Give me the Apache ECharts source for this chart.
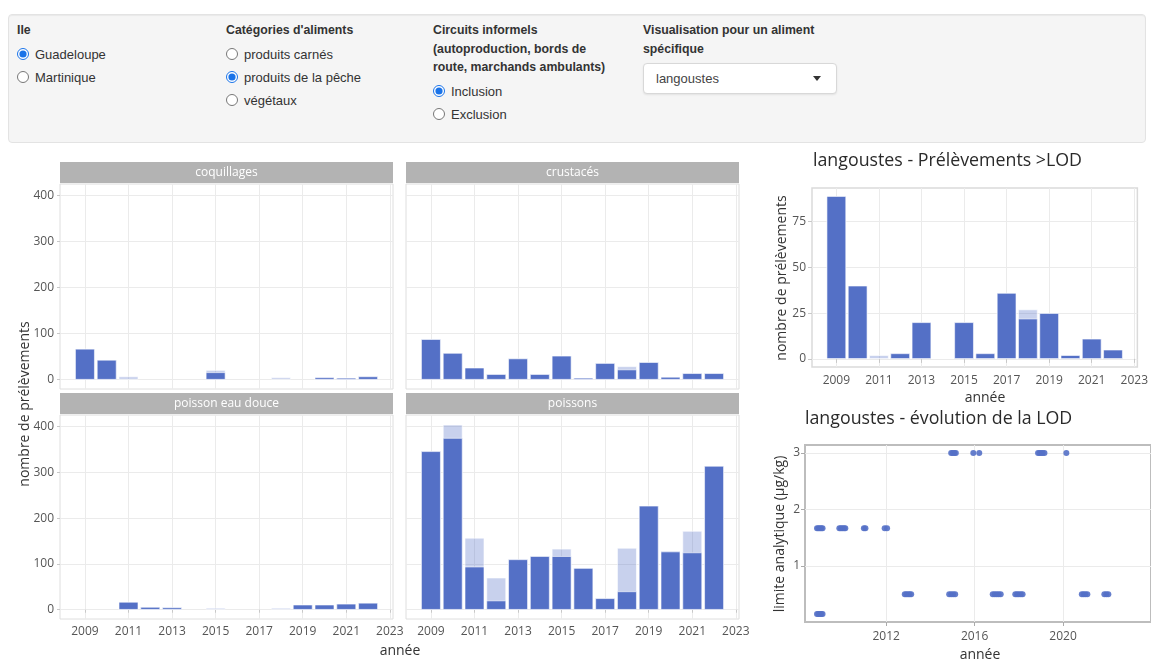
<!DOCTYPE html>
<html><head><meta charset="utf-8">
<script src="https://cdn.jsdelivr.net/npm/echarts@6/dist/echarts.min.js"></script>
<style>
html,body{margin:0;padding:0;background:#fff;width:1151px;height:660px;overflow:hidden;font-family:"Liberation Sans",Arial,sans-serif;color:#333;}
#chart{position:absolute;left:0;top:0;width:1151px;height:660px;}
#panel{position:absolute;left:8px;top:14px;width:1136px;height:127px;background:#f5f5f5;border:1px solid #e3e3e3;border-radius:4px;box-shadow:inset 0 1px 1px rgba(0,0,0,.05);z-index:2;}
.col{position:absolute;top:6px;font-size:13px;}
.lab{font-weight:bold;font-size:12.3px;line-height:18.5px;margin-bottom:3px;}
.opt{height:23px;line-height:23px;display:flex;align-items:center;}
.opt input{margin:0 6px 0 0;width:12px;height:12px;accent-color:#1a73e8;}
.sel{position:absolute;left:0;width:192px;height:29px;border:1px solid #d8d8d8;border-radius:4px;background:#fff;box-shadow:0 1px 2px rgba(0,0,0,.08);font-size:13px;line-height:29px;}
.sel span{position:absolute;left:12px;color:#444;}
.sel i{position:absolute;right:15px;top:12px;width:0;height:0;border-left:4px solid transparent;border-right:4px solid transparent;border-top:5px solid #333;}
</style></head>
<body>
<div id="panel">
  <div class="col" style="left:8px;">
    <div class="lab">Ile</div>
    <div class="opt"><input type="radio" name="ile" checked>Guadeloupe</div>
    <div class="opt"><input type="radio" name="ile">Martinique</div>
  </div>
  <div class="col" style="left:217px;">
    <div class="lab">Catégories d'aliments</div>
    <div class="opt"><input type="radio" name="cat">produits carnés</div>
    <div class="opt"><input type="radio" name="cat" checked>produits de la pêche</div>
    <div class="opt"><input type="radio" name="cat">végétaux</div>
  </div>
  <div class="col" style="left:424px;">
    <div class="lab">Circuits informels<br>(autoproduction, bords de<br>route, marchands ambulants)</div>
    <div class="opt"><input type="radio" name="circ" checked>Inclusion</div>
    <div class="opt"><input type="radio" name="circ">Exclusion</div>
  </div>
  <div class="col" style="left:634px;">
    <div class="lab">Visualisation pour un aliment<br>spécifique</div>
    <div class="sel" style="top:42px;"><span>langoustes</span><i></i></div>
  </div>
</div>
<div id="chart"></div>
<script>
// ---- data ----
const years = [2009,2010,2011,2012,2013,2014,2015,2016,2017,2018,2019,2020,2021,2022];
const facetNames = ['coquillages','crustacés','poisson eau douce','poissons'];
const coqDark   = [67,43,0,0,0,0,16,0,0,0,0,5,4,7];
const coqAll    = [67,43,7,0,0,0,21,0,0,5,0,5,4,7];
const crustDark = [88,58,26,12,46,12,52,4,36,22,38,6,14,14];
const crustAll  = [88,58,26,12,46,12,52,4,36,29,38,6,14,14];
const eauDark   = [0,0,17,6,5,0,0,0,0,0,11,11,13,15];
const eauAll    = [0,0,17,6,5,0,4,0,0,4,11,11,13,15];
const poisDark  = [346,375,94,20,110,117,117,91,25,40,227,127,125,314];
const poisAll   = [346,404,157,70,110,117,133,91,25,135,227,127,172,314];
const langDark  = [89,40,0,3,20,0,20,3,36,22,25,2,11,5];
const langAll   = [89,40,2,3,20,0,20,3,36,27,25,2,11,5];
const lodDates  = [2008.87,2008.93,2009.0,2009.06,2009.12, 2008.87,2008.93,2009.0,2009.06,2009.12,
                   2009.88,2009.95,2010.02,2010.09,2010.15, 2010.99,2011.06, 2011.93,2012.04,
                   2012.84,2012.91,2012.99,2013.06,2013.13, 2014.94,2015.01,2015.08,2015.15,
                   2014.85,2014.94,2015.03,2015.12, 2015.94,2016.21,
                   2016.82,2016.91,2017.0,2017.09,2017.18, 2017.84,2017.92,2018.0,2018.09,2018.17,
                   2018.87,2018.94,2019.01,2019.08,2019.16, 2020.15,
                   2020.85,2020.93,2021.01,2021.1, 2021.87,2021.96,2022.05];
const lodValues = [1.67,1.67,1.67,1.67,1.67, 0.15,0.15,0.15,0.15,0.15,
                   1.67,1.67,1.67,1.67,1.67, 1.67,1.67, 1.67,1.67,
                   0.5,0.5,0.5,0.5,0.5, 3,3,3,3,
                   0.5,0.5,0.5,0.5, 3,3,
                   0.5,0.5,0.5,0.5,0.5, 0.5,0.5,0.5,0.5,0.5,
                   3,3,3,3,3, 3,
                   0.5,0.5,0.5,0.5, 0.5,0.5,0.5];
const yearTicks = [2009,2011,2013,2015,2017,2019,2021,2023];
const facetYTicks = [0,100,200,300,400];
const langYTicks = [0,25,50,75];
const lodXTicks = [2012,2016,2020];
const lodYTicks = [1,2,3];

// ---- layout / style ----
const BLUE = '#5470c6', LIGHT = 'rgba(84,112,198,0.32)';
const FONT = 'Open Sans';
const XMIN = 2007.855, XMAX = 2023.145;
const grids = [
  {left:60, top:184, width:333, height:205},
  {left:406, top:184, width:333, height:205},
  {left:60, top:415, width:333, height:204},
  {left:406, top:415, width:333, height:204},
  {left:812, top:188, width:330, height:179},
  {left:805, top:445, width:355, height:177}
];
const gridStyle = [
  {borderColor:'#dedede', borderWidth:1},
  {borderColor:'#dedede', borderWidth:1},
  {borderColor:'#dedede', borderWidth:1},
  {borderColor:'#dedede', borderWidth:1},
  {borderColor:'#dadada', borderWidth:1.5},
  {borderColor:'#bdbdbd', borderWidth:2}
];
const splitL = {show:true, lineStyle:{color:'#ebebeb', width:1}};
const lbl = {color:'#555', fontFamily:FONT, fontSize:12, formatter: v => String(v)};

const xAxes = [], yAxes = [];
for (let i = 0; i < 4; i++) {
  xAxes.push({gridIndex:i, type:'value', min:XMIN, max:XMAX,
    axisLine:{show:false}, splitLine:splitL,
    axisTick:{show:i>=2, customValues:yearTicks, length:3, lineStyle:{color:'#c8c8c8'}},
    axisLabel:Object.assign({show:i>=2, customValues:yearTicks, margin:7}, lbl)});
  yAxes.push({gridIndex:i, type:'value', min:-20.25, max:425.25,
    axisLine:{show:false}, splitLine:splitL,
    axisTick:{show:i%2===0, customValues:facetYTicks, length:3, lineStyle:{color:'#c8c8c8'}},
    axisLabel:Object.assign({show:i%2===0, customValues:facetYTicks, margin:6}, lbl)});
}
xAxes.push({gridIndex:4, type:'value', min:XMIN, max:XMAX, axisLine:{show:false}, splitLine:splitL,
  axisTick:{show:true, customValues:yearTicks, length:4, lineStyle:{color:'#c8c8c8'}},
  axisLabel:Object.assign({customValues:yearTicks, margin:8}, lbl)});
yAxes.push({gridIndex:4, type:'value', min:-4.45, max:93.45, axisLine:{show:false}, splitLine:splitL,
  axisTick:{show:true, customValues:langYTicks, length:4, lineStyle:{color:'#c8c8c8'}},
  axisLabel:Object.assign({customValues:langYTicks, margin:6}, lbl)});
xAxes.push({gridIndex:5, type:'value', min:2008.326, max:2023.98, axisLine:{show:false}, splitLine:splitL,
  axisTick:{show:true, customValues:lodXTicks, length:4, lineStyle:{color:'#aaa'}},
  axisLabel:Object.assign({customValues:lodXTicks, margin:9}, lbl)});
yAxes.push({gridIndex:5, type:'value', min:0.01, max:3.14, axisLine:{show:false}, splitLine:splitL,
  axisTick:{show:true, customValues:lodYTicks, length:4, lineStyle:{color:'#aaa'}},
  axisLabel:Object.assign({customValues:lodYTicks, margin:5}, lbl)});

const facetData = [[coqDark,coqAll],[crustDark,crustAll],[eauDark,eauAll],[poisDark,poisAll],[langDark,langAll]];
const series = [];
facetData.forEach((pair, i) => {
  const g = grids[i];
  const bw = g.width / (XMAX - XMIN) * 0.9;
  const toData = arr => years.map((y, k) => [y, arr[k] === 0 ? '-' : arr[k]]);
  series.push({type:'bar', xAxisIndex:i, yAxisIndex:i, barWidth:bw, barGap:'-100%',
    itemStyle:{color:LIGHT, borderColor:'#fff', borderWidth:0.6}, data:toData(pair[1]), silent:true});
  series.push({type:'bar', xAxisIndex:i, yAxisIndex:i, barWidth:bw, barGap:'-100%',
    itemStyle:{color:BLUE, borderColor:'#fff', borderWidth:0.6}, data:toData(pair[0]), silent:true});
});
series.push({type:'scatter', xAxisIndex:5, yAxisIndex:5, symbolSize:6,
  itemStyle:{color:BLUE, opacity:0.9}, data:lodDates.map((d, k) => [d, lodValues[k]]), silent:true});

const graphics = [];
facetNames.forEach((name, i) => {
  const g = grids[i];
  graphics.push({type:'rect', shape:{x:g.left, y:g.top - 22, width:g.width, height:21}, style:{fill:'#b3b3b3'}});
  graphics.push({type:'text', x:g.left + g.width / 2, y:g.top - 11.5,
    style:{text:name, fill:'#fff', font:'12px "Open Sans"', align:'center', verticalAlign:'middle'}});
});
const axTitle = (text, x, y, rot) => ({type:'text', x:x, y:y, rotation:rot ? Math.PI / 2 : 0,
  style:{text:text, fill:'#333', font:'14px "Open Sans"', align:'center', verticalAlign:'middle'}});
graphics.push(axTitle('nombre de prélèvements', 25, 404, true));
graphics.push(axTitle('année', 400, 651, false));
graphics.push(axTitle('nombre de prélèvements', 782, 278, true));
graphics.push(axTitle('année', 985, 398, false));
graphics.push(axTitle('limite analytique (µg/kg)', 780, 534, true));
graphics.push(axTitle('année', 980, 655, false));

const chart = echarts.init(document.getElementById('chart'), null, {renderer:'canvas'});
chart.setOption({
  animation:false,
  backgroundColor:'#fff',
  title:[
    {text:'langoustes - Prélèvements >LOD', left:813, top:152, padding:0,
      textStyle:{fontFamily:FONT, fontSize:17.8, fontWeight:'normal', color:'#2a2a2a'}},
    {text:'langoustes - évolution de la LOD', left:805, top:410, padding:0,
      textStyle:{fontFamily:FONT, fontSize:17.8, fontWeight:'normal', color:'#2a2a2a'}}
  ],
  grid:grids.map((g, i) => Object.assign({show:true, backgroundColor:'#fff', containLabel:false}, g, gridStyle[i])),
  xAxis:xAxes, yAxis:yAxes, series:series, graphic:graphics
});
</script>
</body></html>
